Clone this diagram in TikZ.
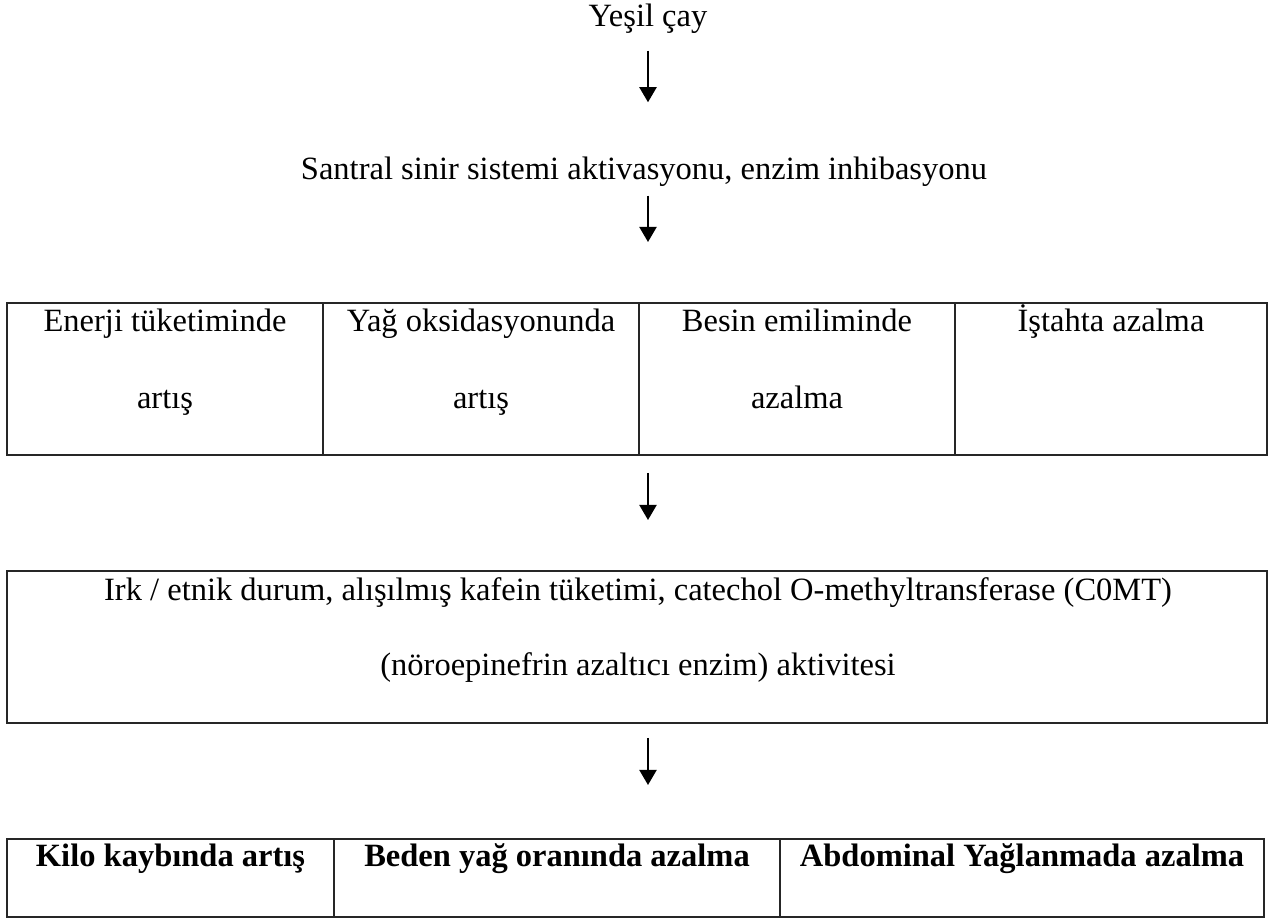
\documentclass[tikz,border=0pt]{standalone}
\usepackage{fontspec}
\setmainfont{Liberation Serif}
\usetikzlibrary{arrows.meta,positioning}

\tikzset{
  lbl/.style={inner sep=0pt,font=\fontsize{13}{30.8}\selectfont,align=center},
  head/.style={lbl,anchor=base,text height=0.75em,text depth=0.25em},
  cell/.style={draw=black!85,line width=0.8pt,inner sep=0pt,outer sep=0pt,anchor=north west},
  flow/.style={-{Triangle[length=6pt,width=6.8pt]},line width=0.8pt},
}

\begin{document}
\begin{tikzpicture}[x=0.4pt,y=-0.4pt]
  \useasboundingbox (0,0) rectangle (1269,918);
  % top of the chain
  \node[head] (yesil) at (648,27) {Yeşil çay};
  \node[head] (santral) at (644,180) {Santral sinir sistemi aktivasyonu, enzim inhibasyonu};
  % first row: four effects
  \node[cell,minimum width=126.4pt,minimum height=60.8pt] (enerji) at (7,303) {};
  \node[cell,minimum width=126.4pt,minimum height=60.8pt,right=0pt of enerji] (yag) {};
  \node[cell,minimum width=126.4pt,minimum height=60.8pt,right=0pt of yag] (besin) {};
  \node[cell,minimum width=124.8pt,minimum height=60.8pt,right=0pt of besin] (istah) {};
  % (base = last line)
  \node[lbl,anchor=base] (enerjitxt) at ([yshift=-42.4pt]enerji.north) {Enerji tüketiminde\\artış};
  \node[lbl,anchor=base] (yagtxt) at ([yshift=-42.4pt]yag.north) {Yağ oksidasyonunda\\artış};
  \node[lbl,anchor=base] (besintxt) at ([yshift=-42.4pt]besin.north) {Besin emiliminde\\azalma};
  \node[lbl,anchor=base] (istahtxt) at ([yshift=-11.4pt]istah.north) {İştahta azalma};
  % second row: modifying factors
  \node[cell,minimum width=504pt,minimum height=60.8pt] (irk) at (7,571) {};
  \node[lbl,anchor=base,font=\fontsize{13}{30}\selectfont] (irktxt) at ([xshift=0.4pt,yshift=-41.8pt]irk.north)
    {Irk / etnik durum, alışılmış kafein tüketimi, catechol O-methyltransferase (C0MT)\\(nöroepinefrin azaltıcı enzim) aktivitesi};
  % third row: outcomes
  \node[cell,minimum width=130.8pt,minimum height=31.2pt] (kilo) at (7,839) {};
  \node[cell,minimum width=178.4pt,minimum height=31.2pt,right=0pt of kilo] (beden) {};
  \node[cell,minimum width=193.6pt,minimum height=31.2pt,right=0pt of beden] (abdominal) {};
  \node[lbl,anchor=base,font=\fontsize{13}{30}\selectfont\bfseries] (kilotxt) at ([yshift=-11.2pt]kilo.north) {Kilo kaybında artış};
  \node[lbl,anchor=base,font=\fontsize{13}{30}\selectfont\bfseries] (bedentxt) at ([yshift=-11.2pt]beden.north) {Beden yağ oranında azalma};
  \node[lbl,anchor=base,font=\fontsize{13}{30}\selectfont\bfseries] (abdominaltxt) at ([yshift=-11.2pt]abdominal.north) {Abdominal Yağlanmada azalma};
  % arrows
  \draw[flow,shorten <=6.8pt,shorten >=23.4pt] (yesil.south) -- (yesil.south |- santral.north);
  \draw[flow,shorten <=3.6pt,shorten >=24.4pt] (yesil.south |- santral.south) -- (yesil.south |- enerji.north);
  \draw[flow,shorten <=7.2pt,shorten >=20.4pt] (yesil.south |- enerji.south) -- (yesil.south |- irk.north);
  \draw[flow,shorten <=6pt,shorten >=21.6pt] (yesil.south |- irk.south) -- (yesil.south |- kilo.north);
\end{tikzpicture}
\end{document}
